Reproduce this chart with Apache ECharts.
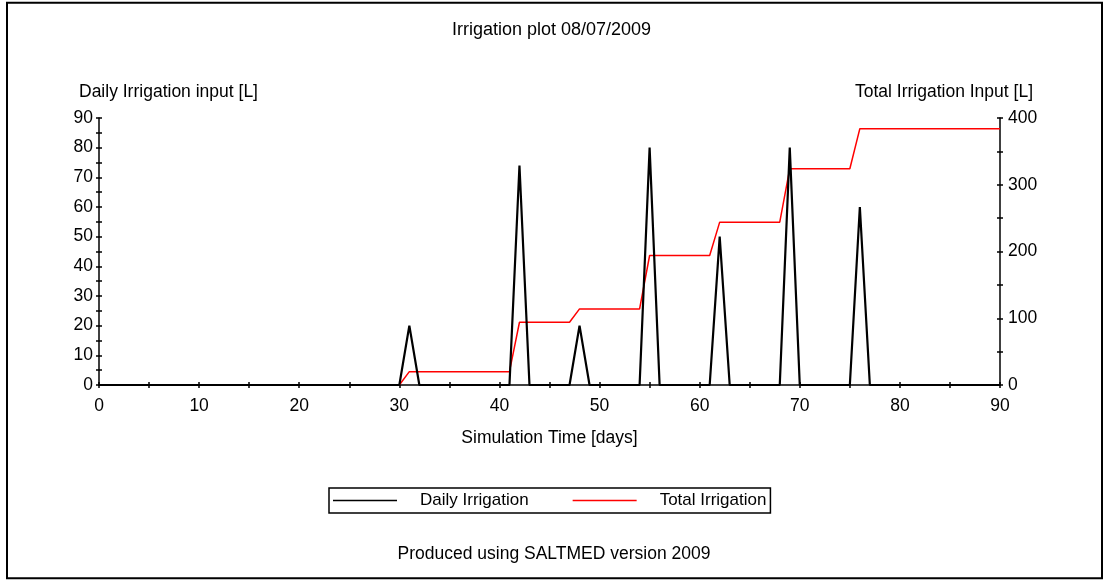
<!DOCTYPE html>
<html>
<head>
<meta charset="utf-8">
<title>Irrigation plot 08/07/2009</title>
<script src="https://cdn.jsdelivr.net/npm/echarts@6/dist/echarts.min.js"></script>
<style>
  html, body { margin: 0; padding: 0; background: #fff; }
  #chart { width: 1103px; height: 581px; }
</style>
</head>
<body>
<div id="chart"></div>
<script>
// Daily irrigation input [L] for simulation days 0..90 (index = day)
const dailyIrrigation = [
  0, 0, 0, 0, 0, 0, 0, 0, 0, 0,      // 0-9
  0, 0, 0, 0, 0, 0, 0, 0, 0, 0,      // 10-19
  0, 0, 0, 0, 0, 0, 0, 0, 0, 0,      // 20-29
  0, 20, 0, 0, 0, 0, 0, 0, 0, 0,     // 30-39
  0, 0, 74, 0, 0, 0, 0, 0, 20, 0,    // 40-49
  0, 0, 0, 0, 0, 80, 0, 0, 0, 0,     // 50-59
  0, 0, 50, 0, 0, 0, 0, 0, 0, 80,    // 60-69
  0, 0, 0, 0, 0, 0, 60, 0, 0, 0,     // 70-79
  0, 0, 0, 0, 0, 0, 0, 0, 0, 0,      // 80-89
  0                                  // 90
];

// Total (cumulative) irrigation input [L] for days 0..90
const totalIrrigation = [
  0, 0, 0, 0, 0, 0, 0, 0, 0, 0,                      // 0-9
  0, 0, 0, 0, 0, 0, 0, 0, 0, 0,                      // 10-19
  0, 0, 0, 0, 0, 0, 0, 0, 0, 0,                      // 20-29
  0, 20, 20, 20, 20, 20, 20, 20, 20, 20,             // 30-39
  20, 20, 94, 94, 94, 94, 94, 94, 114, 114,          // 40-49
  114, 114, 114, 114, 114, 194, 194, 194, 194, 194,  // 50-59
  194, 194, 244, 244, 244, 244, 244, 244, 244, 324,  // 60-69
  324, 324, 324, 324, 324, 324, 384, 384, 384, 384,  // 70-79
  384, 384, 384, 384, 384, 384, 384, 384, 384, 384,  // 80-89
  384                                                // 90
];

const seriesNames = ['Daily Irrigation', 'Total Irrigation'];
const chartTitle = 'Irrigation plot 08/07/2009';
const xAxisTitle = 'Simulation Time [days]';
const leftAxisTitle = 'Daily Irrigation input [L]';
const rightAxisTitle = 'Total Irrigation Input [L]';
const footerText = 'Produced using SALTMED version 2009';

const FONT = '"Liberation Sans", Arial, sans-serif';
const FS = 17.5;
const INK = '#000';

const chart = echarts.init(document.getElementById('chart'), null, { renderer: 'canvas' });

// Ticks cross the axis line: one axis draws the outer half, a twin draws the inner half.
function valueAxis(extra, inside, withLine) {
  return Object.assign({
    type: 'value',
    splitLine: { show: false },
    axisLine: { show: withLine, onZero: false, lineStyle: { color: INK, width: 1.5 } },
    axisTick: { show: true, inside: inside, length: 3, lineStyle: { color: INK, width: 1.5 } },
    minorTick: { show: true, splitNumber: 2, length: 3, lineStyle: { color: INK, width: 1.5 } },
    axisLabel: { show: withLine, color: INK, fontSize: FS, fontFamily: FONT },
    minorSplitLine: { show: false }
  }, extra);
}

const option = {
  backgroundColor: '#fff',
  animation: false,
  textStyle: { fontFamily: FONT, color: INK },
  title: {
    text: chartTitle,
    left: 'center',
    top: 21,
    padding: 0,
    textStyle: { fontSize: 18, fontWeight: 'normal', color: INK, fontFamily: FONT }
  },
  grid: { left: 99, right: 103, top: 118, bottom: 196, containLabel: false },
  legend: {
    data: seriesNames,
    left: 329,
    top: 488,
    padding: [4, 4, 4, 4],
    borderColor: INK,
    borderWidth: 1.5,
    itemWidth: 64,
    itemHeight: 1.5,
    itemGap: 44,
    icon: 'rect',
    textStyle: { fontSize: 17, color: INK, fontFamily: FONT, padding: [0, 0, 0, 18] }
  },
  xAxis: [
    valueAxis({
      min: 0, max: 90, interval: 10, position: 'bottom',
      name: xAxisTitle, nameLocation: 'middle', nameGap: 44,
      nameTextStyle: { fontSize: FS, color: INK, fontFamily: FONT },
      axisLabel: { show: true, color: INK, fontSize: FS, fontFamily: FONT, margin: 12 }
    }, false, true),
    valueAxis({ min: 0, max: 90, interval: 10, position: 'bottom' }, true, false)
  ],
  yAxis: [
    valueAxis({
      min: 0, max: 90, interval: 10, position: 'left',
      axisLabel: { show: true, color: INK, fontSize: FS, fontFamily: FONT, margin: 6 }
    }, false, true),
    valueAxis({ min: 0, max: 90, interval: 10, position: 'left' }, true, false),
    valueAxis({
      min: 0, max: 400, interval: 100, position: 'right',
      axisLabel: { show: true, color: INK, fontSize: FS, fontFamily: FONT, margin: 8 }
    }, false, true),
    valueAxis({ min: 0, max: 400, interval: 100, position: 'right' }, true, false)
  ],
  series: [
    {
      name: seriesNames[0],
      type: 'line',
      xAxisIndex: 0,
      yAxisIndex: 0,
      data: dailyIrrigation.map((v, day) => [day, v]),
      showSymbol: false,
      symbol: 'none',
      z: 4,
      color: '#000',
      lineStyle: { color: '#000', width: 2.2 }
    },
    {
      name: seriesNames[1],
      type: 'line',
      xAxisIndex: 0,
      yAxisIndex: 2,
      data: totalIrrigation.map((v, day) => [day, v]),
      showSymbol: false,
      symbol: 'none',
      z: 3,
      color: '#ff0000',
      lineStyle: { color: '#ff0000', width: 1.5 }
    }
  ],
  graphic: [
    {
      type: 'rect',
      silent: true,
      shape: { x: 7, y: 2.7, width: 1095, height: 575.6 },
      style: { fill: 'none', stroke: INK, lineWidth: 2 }
    },
    {
      type: 'text',
      x: 79, y: 92.5,
      style: { text: leftAxisTitle, fill: INK, fontSize: FS, fontFamily: FONT, textAlign: 'left', textVerticalAlign: 'middle' }
    },
    {
      type: 'text',
      x: 1033, y: 92.5,
      style: { text: rightAxisTitle, fill: INK, fontSize: FS, fontFamily: FONT, textAlign: 'right', textVerticalAlign: 'middle' }
    },
    {
      type: 'text',
      x: 554, y: 554,
      style: { text: footerText, fill: INK, fontSize: FS, fontFamily: FONT, textAlign: 'center', textVerticalAlign: 'middle' }
    }
  ]
};

chart.setOption(option);
</script>
</body>
</html>
